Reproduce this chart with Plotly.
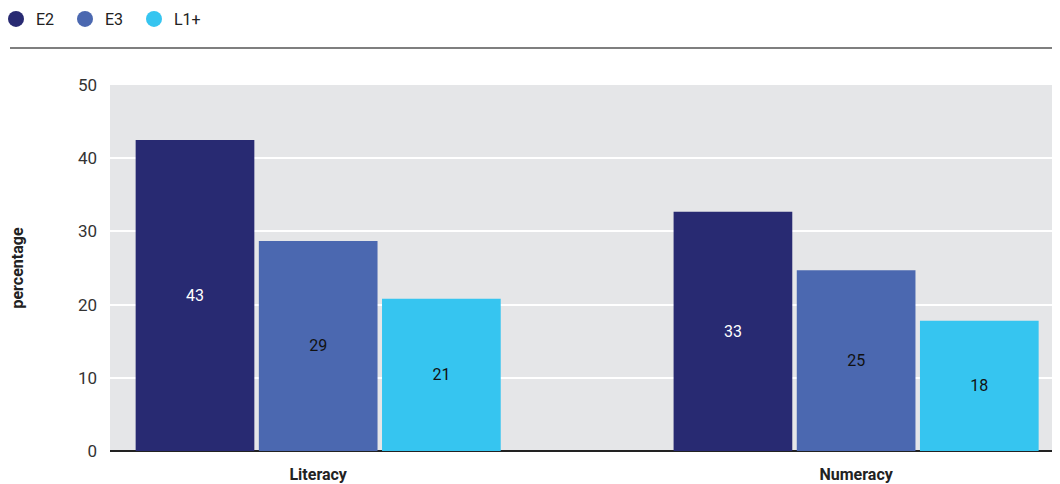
import plotly.graph_objects as go

categories = ["Literacy", "Numeracy"]
series_names = ["E2", "E3", "L1+"]
e2_values = [42.5, 32.7]
e3_values = [28.7, 24.7]
l1_values = [20.8, 17.8]
e2_labels = ["43", "33"]
e3_labels = ["29", "25"]
l1_labels = ["21", "18"]
y_ticks = [0, 10, 20, 30, 40, 50]

colors = ["#282a72", "#4b68b0", "#36c5f0"]
label_colors = ["#ffffff", "#111111", "#111111"]
FONT = "Roboto, Open Sans, sans-serif"

fig = go.Figure()
for name, vals, labs, col, lc in zip(series_names, [e2_values, e3_values, l1_values],
                                      [e2_labels, e3_labels, l1_labels], colors, label_colors):
    fig.add_trace(go.Bar(
        x=categories, y=vals, name=name, marker=dict(color=col, line=dict(width=0)),
        text=labs, textposition="inside", insidetextanchor="middle",
        textfont=dict(color=lc, size=16, family=FONT), showlegend=False,
        hoverinfo="skip",
    ))
    fig.add_trace(go.Scatter(
        x=[None], y=[None], mode="markers", name=name,
        marker=dict(symbol="circle", size=16, color=col), showlegend=True,
    ))

# page has an 8px body margin; figure sized to fill the rest of the window
fig.update_layout(
    width=1052, height=476,
    margin=dict(l=102, r=0, t=77, b=33, autoexpand=False),
    paper_bgcolor="white", plot_bgcolor="#e5e6e8",
    barmode="group", bargap=0.313, bargroupgap=0.0365,
    font=dict(family=FONT, color="#222222"),
    legend=dict(orientation="h", x=-0.12, xanchor="left", y=1.2268, yref="paper",
                yanchor="top", font=dict(size=16, color="#222222"),
                itemwidth=30, tracegroupgap=0, bgcolor="rgba(0,0,0,0)",
                entrywidth=24, entrywidthmode="pixels"),
    uniformtext=dict(mode="show", minsize=16),
    shapes=[dict(type="line", xref="paper", yref="paper", x0=-0.1053, x1=1.0,
                 y0=1.1011, y1=1.1011, line=dict(color="#555555", width=1.5))],
)
fig.update_xaxes(
    type="category", range=[-0.387, 1.379], showgrid=False, ticks="",
    tickfont=dict(size=16, family=FONT, color="#222222", weight="bold"),
    ticklabelstandoff=12, showline=False, zeroline=False,
)
fig.update_yaxes(
    range=[0, 50], tickvals=y_ticks, showgrid=True, gridcolor="#ffffff", gridwidth=2,
    zeroline=True, zerolinecolor="#222222", zerolinewidth=2,
    tickfont=dict(size=17, family=FONT, color="#333333"), ticks="", ticklabelstandoff=12,
    title=dict(text="percentage", font=dict(size=16, family=FONT, color="#222222", weight="bold"),
               standoff=51),
)

fig.write_html("out.html")
